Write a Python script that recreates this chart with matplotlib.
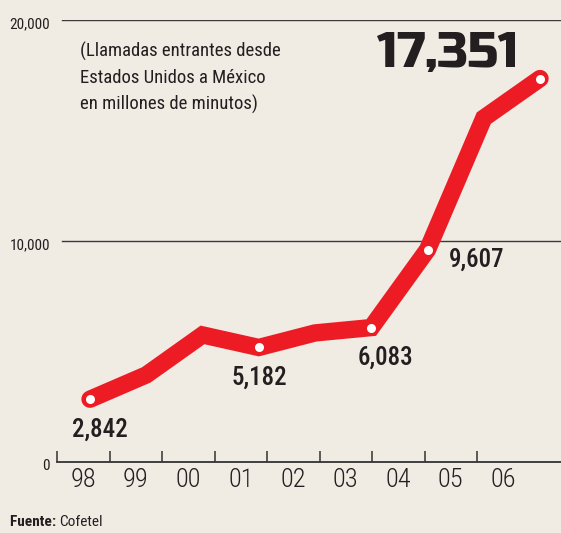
import matplotlib

matplotlib.use('Agg')

import matplotlib.pyplot as plt
from matplotlib.transforms import ScaledTranslation

# Llamadas entrantes desde EE.UU. a México (millones de minutos)
years = ['98', '99', '00', '01', '02', '03', '04', '05', '06']
minutes = [2842, 3940, 5750, 5182, 5840, 6083, 9607, 15560, 17351]
labelled = {0: '2,842', 3: '5,182', 5: '6,083', 6: '9,607'}
y_ticks = [0, 10000, 20000]
y_tick_labels = ['0', '10,000', '20,000']

BG = '#f0ebe3'
RED = '#ed1c24'
INK = '#231f20'

plt.rcParams['font.family'] = ['Roboto Condensed', 'DejaVu Sans']

W, H = 561, 533
fig = plt.figure(figsize=(W / 100, H / 100), dpi=100, facecolor=BG)
# axes: x 57..561 px, y 0 -> 462 px, 20000 -> 20 px
ax = fig.add_axes([57 / W, (H - 462) / H, (W - 57) / W, (462 - 20) / H])
ax.set_facecolor(BG)
ax.set_ylim(0, 20000)
ax.set_xlim(-0.5, 9.1)

for s in ('top', 'right', 'left'):
    ax.spines[s].set_visible(False)
ax.spines['bottom'].set_color('#333333')
ax.spines['bottom'].set_linewidth(1.3)

# category labels sit between the separator ticks
ax.set_xticks(range(len(years)))
ax.set_xticklabels(years, fontsize=19, color=INK, fontweight='light')
ax.tick_params(axis='x', length=0, pad=4)
ax.set_xticks([i - 0.5 for i in range(len(years))], minor=True)
ax.tick_params(axis='x', which='minor', direction='in', length=8,
               width=1.1, color='#333333')

ax.set_yticks(y_ticks)
ax.set_yticklabels(y_tick_labels, fontsize=11, color=INK)
ax.tick_params(axis='y', length=0, pad=5)
shift = ScaledTranslation(0, -3 / 100, fig.dpi_scale_trans)
for lab in ax.get_yticklabels():
    lab.set_transform(lab.get_transform() + shift)
for yv in y_ticks[1:]:
    ax.axhline(yv, xmin=5 / 504, color='#3a3a3a', linewidth=1.0, zorder=1)

# data line on its own x scale
ax2 = ax.twiny()
ax2.set_xlim(-0.587, 8.373)
ax2.set_ylim(0, 20000)
ax2.axis('off')
xs = list(range(len(years)))
ax2.plot(xs, minutes, color=RED, linewidth=12.5, solid_capstyle='round',
         solid_joinstyle='miter', zorder=3, clip_on=False)
mark = [0, 3, 5, 6, 8]
ax2.plot([xs[i] for i in mark], [minutes[i] for i in mark], 'o',
         color='white', markersize=6.5, markeredgewidth=0, zorder=4,
         clip_on=False)

offsets = {0: (10, -31), 3: (1, -30), 5: (14, -30), 6: (49, -10)}
for i, txt in labelled.items():
    ax2.annotate(txt, (xs[i], minutes[i]), xytext=offsets[i],
                 textcoords='offset pixels', ha='center', va='center',
                 fontsize=18, fontweight='medium', color=INK, zorder=5)

ax2.annotate('17,351', (xs[8], minutes[8]), xytext=(-93, 25),
             textcoords='offset pixels', ha='center', va='center',
             fontsize=36, color=INK, family=['Russo One', 'DejaVu Sans'],
             zorder=5)

fig.text(80 / W, 1 - 78 / H,
         '(Llamadas entrantes desde\nEstados Unidos a México\nen millones de minutos)',
         ha='left', va='center', fontsize=13.5, color=INK, linespacing=1.55)
fuente = fig.text(10 / W, 1 - 522 / H, 'Fuente: ', ha='left', va='center',
                  fontsize=11, fontweight='bold', color=INK)
fig.canvas.draw()
bb = fuente.get_window_extent()
fig.text(bb.x1 / W, 1 - 522 / H, 'Cofetel', ha='left', va='center',
         fontsize=11, color=INK)

fig.savefig('out.png', dpi=100, facecolor=BG)
